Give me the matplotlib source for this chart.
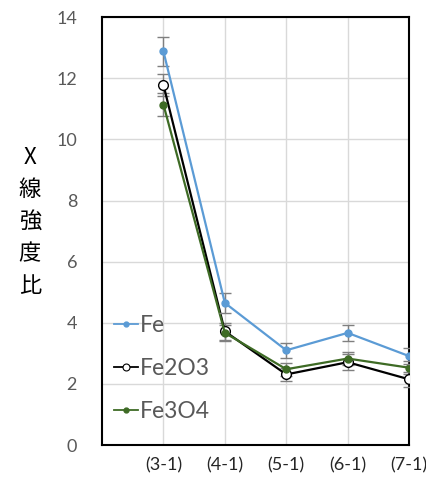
import matplotlib.pyplot as plt
from matplotlib.lines import Line2D
import numpy as np

plt.rcParams['font.family'] = ['Lato', 'Noto Sans CJK JP', 'DejaVu Sans']

samples = ["(3-1)", "(4-1)", "(5-1)", "(6-1)", "(7-1)"]
fe = [12.88, 4.65, 3.10, 3.67, 2.91]
fe_err = [0.47, 0.32, 0.24, 0.26, 0.25]
fe2o3 = [11.78, 3.72, 2.31, 2.71, 2.15]
fe2o3_err = [0.36, 0.27, 0.22, 0.26, 0.24]
fe3o4 = [11.14, 3.67, 2.48, 2.83, 2.53]
fe3o4_err = [0.38, 0.27, 0.22, 0.22, 0.22]

x = np.arange(1, len(samples) + 1)
c_fe, c_fe2o3, c_fe3o4 = '#5B9BD5', 'black', '#3E6B25'

fig = plt.figure(figsize=(4.27, 4.78), dpi=100)
ax = fig.add_axes([0.239, 0.069, 0.719, 0.895])

err_kw = dict(ecolor='#7f7f7f', elinewidth=1.0, capsize=4, capthick=1.0)
ax.errorbar(x, fe, yerr=fe_err, color=c_fe, lw=1.6, marker='o', ms=5,
            zorder=4, **err_kw)
ax.errorbar(x, fe2o3, yerr=fe2o3_err, color=c_fe2o3, lw=1.6, marker='o', ms=7,
            mfc='white', mec='black', mew=1.0, zorder=3, **err_kw)
ax.errorbar(x, fe3o4, yerr=fe3o4_err, color=c_fe3o4, lw=1.6, marker='o', ms=5,
            zorder=3, **err_kw)

ax.set_xlim(0, 5)
ax.set_ylim(0, 14)
ax.set_yticks(np.arange(0, 15, 2))
ax.set_xticks(x)
ax.set_xticklabels(samples)
ax.tick_params(axis='both', length=0, labelsize=13, colors='#595959')
ax.tick_params(axis='x', pad=9, labelcolor='#262626')
ax.tick_params(axis='y', pad=18)
ax.grid(True, color='#d9d9d9', lw=1.0)
ax.set_axisbelow(True)
for s in ax.spines.values():
    s.set_color('black')
    s.set_linewidth(1.5)

fig.text(0.07, 0.537, "X\n線\n強\n度\n比", ha='center', va='center',
         fontsize=16, linespacing=1.5, family=['Noto Sans CJK JP', 'DejaVu Sans'])

handles = [
    Line2D([], [], color=c_fe, lw=1.3, marker='o', ms=3.5),
    Line2D([], [], color=c_fe2o3, lw=1.3, marker='o', ms=5, mfc='white', mew=0.8),
    Line2D([], [], color=c_fe3o4, lw=1.3, marker='o', ms=3.5),
]
leg = ax.legend(handles, ['Fe', 'Fe2O3', 'Fe3O4'], loc='lower left',
                bbox_to_anchor=(0.0, 0.028), frameon=False,
                fontsize=16.5, handlelength=1.05, handletextpad=0.1,
                labelspacing=0.95, borderaxespad=0.1)
for t in leg.get_texts():
    t.set_color('#595959')

fig.savefig('out.png', dpi=100)
